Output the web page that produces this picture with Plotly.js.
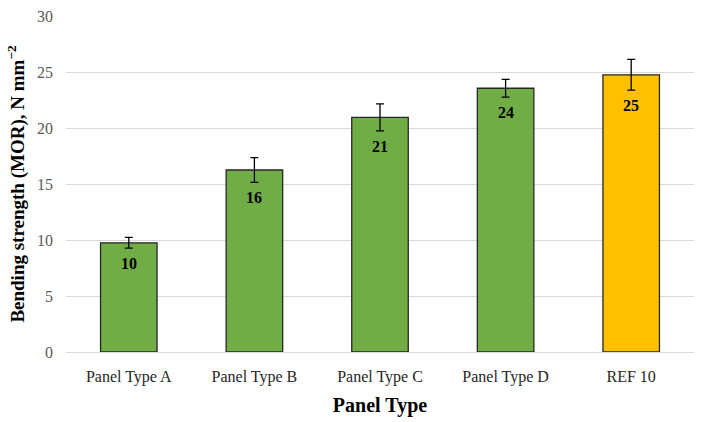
<!DOCTYPE html>
<html>
<head>
<meta charset="utf-8">
<script src="https://cdn.plot.ly/plotly-3.0.1.min.js"></script>
<style>
  html, body { margin: 0; padding: 0; background: #fff; }
  #chart { width: 705px; height: 422px; }
</style>
</head>
<body>
<div id="chart"></div>
<script>
var panels = ['Panel Type A', 'Panel Type B', 'Panel Type C', 'Panel Type D', 'REF 10'];
var mor = [9.75, 16.25, 20.95, 23.55, 24.75];
var morErr = [0.48, 1.1, 1.2, 0.8, 1.37];
var morLabels = ['10', '16', '21', '24', '25'];
var barColors = ['#70AD47', '#70AD47', '#70AD47', '#70AD47', '#FFC000'];

var serif = 'Palatino Linotype, Book Antiqua, Liberation Serif, DejaVu Serif, serif';

var trace = {
    x: panels,
    y: mor,
    type: 'bar',
    marker: {color: barColors, line: {color: '#262626', width: 1.3}},
    error_y: {type: 'data', array: morErr, visible: true, color: '#000', thickness: 1.3, width: 4},
    hoverinfo: 'none'
}

// labels sit just under the lower whisker
var annotations = [];
for (var i = 0; i < panels.length; i++) {
    annotations.push({
        x: panels[i],
        y: mor[i] - morErr[i],
        text: '<b>' + morLabels[i] + '</b>',
        showarrow: false,
        yanchor: 'top',
        yshift: -5,
        font: {family: serif, size: 16, color: '#000'}
    });
}

var layout = {
    width: 705,
    height: 422,
    paper_bgcolor: '#fff',
    plot_bgcolor: '#fff',
    bargap: 0.55,
    showlegend: false,
    font: {family: serif, size: 14, color: '#262626'},
    xaxis: {
        title: {text: '<b>Panel Type</b>', font: {family: serif, size: 20, color: '#000'}, standoff: 12},
        showline: true,
        linecolor: '#d9d9d9',
        linewidth: 1,
        ticks: '',
        ticklabelstandoff: 10,
        tickfont: {family: serif, size: 16, color: '#262626'}
    },
    yaxis: {
        title: {text: '<b>Bending strength (MOR), N mm<sup>\u22122</sup></b>', font: {family: serif, size: 19, color: '#000'}, standoff: 7},
        range: [0, 30],
        dtick: 5,
        gridcolor: '#d9d9d9',
        gridwidth: 1,
        zeroline: false,
        showline: false,
        ticks: '',
        ticklabelstandoff: 12,
        tickfont: {family: serif, size: 16, color: '#595959'}
    },
    annotations: annotations,
    margin: {
        l: 66,
        r: 11,
        b: 70,
        t: 16
    }
}

Plotly.newPlot('chart', [trace], layout, {displayModeBar: false, staticPlot: true});
</script>
</body>
</html>
